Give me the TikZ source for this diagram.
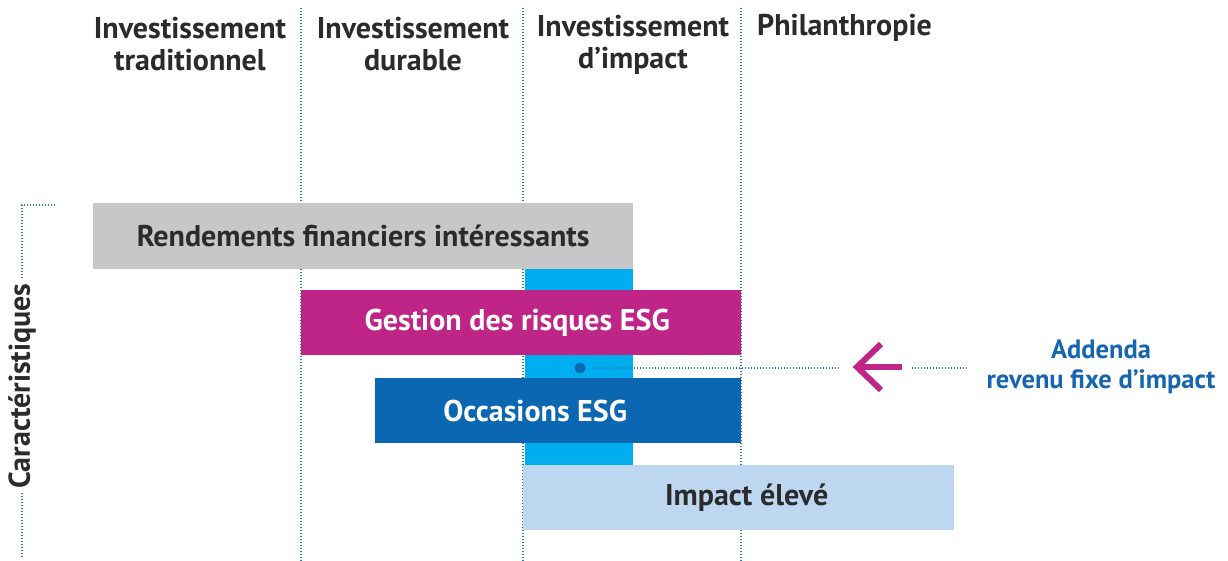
\documentclass[tikz,border=0pt]{standalone}
\usepackage{fontspec}
\setmainfont{PT Sans}
\usetikzlibrary{arrows.meta}
\definecolor{cgrey}{HTML}{C7C7C7}
\definecolor{ccyan}{HTML}{00AEEF}
\definecolor{cmag}{HTML}{BE2586}
\definecolor{cdblue}{HTML}{0B67B2}
\definecolor{clblue}{HTML}{BDD7F1}
\definecolor{cdot}{HTML}{2D7BC4}
\definecolor{ctext}{HTML}{2B2B2B}
\definecolor{cadd}{HTML}{1565B0}
\begin{document}
\begin{tikzpicture}[x=1pt,y=-1pt,
  dotl/.style={cdot, line width=1.6pt, dash pattern=on 1.3pt off 1.7pt},
  bar/.style={draw=none, anchor=north west, inner sep=0pt, font=\fontsize{30}{32}\selectfont\bfseries},
  head/.style={text=ctext, align=center, font=\fontsize{30}{32}\selectfont\bfseries},
]
\useasboundingbox (0,0) rectangle (1228,561);
% column separators (behind the bars)
\coordinate (c1t) at (301,8); \coordinate (c1b) at (301,561);
\coordinate (c2t) at (523,8); \coordinate (c2b) at (523,561);
\coordinate (c3t) at (741,8); \coordinate (c3b) at (741,561);
\draw[dotl] (c1t) -- (c1b);
\draw[dotl] (c2t) -- (c2b);
\draw[dotl] (c3t) -- (c3b);
% bars
\node[bar, fill=cgrey, text=ctext, minimum width=540, minimum height=66] (rend) at (93,203) {Rendements financiers intéressants};
\node[bar, fill=ccyan, minimum width=108, minimum height=196] (cyan) at (525,269) {};
\node[bar, fill=cmag, text=white, minimum width=440, minimum height=65] (gest) at (301,290) {Gestion des risques ESG\hspace*{8pt}};
\node[bar, fill=cdblue, text=white, minimum width=366, minimum height=65] (occ) at (375,378) {Occasions ESG\hspace*{46pt}};
\node[bar, fill=clblue, text=ctext, minimum width=431, minimum height=65] (imp) at (523,465) {\hspace*{16pt}Impact élevé};
% headers
\node[head] (h1) at (190,44) {Investissement\\traditionnel};
\node[head] (h2) at (413,44) {Investissement\\durable};
\node[head] (h3) at (633,45) {Investissement\\d’impact};
\node[head, anchor=west, inner sep=0pt] (h4) at (757,28) {Philanthropie};
% addenda
\node[circle, fill=cdblue, inner sep=0pt, minimum size=11] (dot) at (580,368) {};
\coordinate (d1e) at (840,368);
\draw[dotl] (dot.east) ++(6,0) -- (d1e);
\coordinate (ar1) at (902,367);
\coordinate (ar2) at (857,367);
\draw[cmag, line width=6pt] (ar1) -- (ar2);
\draw[cmag, line width=6pt, line cap=butt, miter limit=10] (881,344) -- (ar2) -- (881,390);
\coordinate (d2s) at (912,368); \coordinate (d2e) at (968,368);
\draw[dotl] (d2s) -- (d2e);
\node[text=cadd, align=center, font=\fontsize{26.5}{30}\selectfont\bfseries] (add) at (1101,367) {Addenda\\revenu fixe d’impact};
% left bracket
\coordinate (bt) at (55,205); \coordinate (bc) at (22,205);
\node[text=ctext, rotate=90, font=\fontsize{30}{32}\selectfont\bfseries, inner sep=4pt] (car) at (22,386) {Caractéristiques};
\coordinate (bb) at (22,556);
\draw[dotl] (bt) -- (bc) -- (car.east);
\draw[dotl] (car.west) -- (bb);
\end{tikzpicture}
\end{document}
